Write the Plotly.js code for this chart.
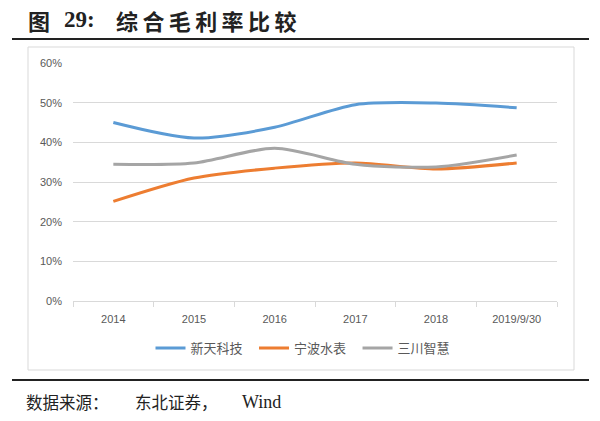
<!DOCTYPE html>
<html><head><meta charset="utf-8">
<script src="https://cdn.plot.ly/plotly-3.0.1.min.js"></script>
<style>html,body{margin:0;padding:0;background:#fff;}#chart{width:600px;height:421px;}</style>
</head><body><div id="chart"></div>
<script>
const categories = ["2014", "2015", "2016", "2017", "2018", "2019/9/30"];
const seriesNames = ["新天科技", "宁波水表", "三川智慧"];
const xintian = [0.450, 0.411, 0.438, 0.495, 0.499, 0.487];
const ningbo  = [0.251, 0.310, 0.335, 0.348, 0.333, 0.348];
const sanchuan = [0.345, 0.348, 0.385, 0.345, 0.338, 0.368];
const yTickVals = [0, 0.1, 0.2, 0.3, 0.4, 0.5, 0.6];
const yTickText = ["0%", "10%", "20%", "30%", "40%", "50%", "60%"];
const colors = ["#5B9BD5", "#ED7D31", "#A5A5A5"];
const values = [xintian, ningbo, sanchuan];

const traces = values.map((v, i) => ({
  type: "scatter", mode: "lines", x: categories, y: v,
  name: seriesNames[i] + (i < values.length - 1 ? "\u2002" : ""),
  line: {color: colors[i], width: 3, shape: "spline", smoothing: 0.8}
}));

const PX = x => (x - 73) / 484;
const PY = y => (301 - y) / 238;
const CJK = "Noto Sans CJK SC, sans-serif";
const ts = "\u2009";

const layout = {
  width: 600, height: 421,
  margin: {l: 73, r: 43, t: 63, b: 120},
  paper_bgcolor: "#fff", plot_bgcolor: "#fff",
  showlegend: true,
  font: {family: "Liberation Sans, Arial, sans-serif", size: 11, color: "#595959"},
  xaxis: {
    type: "category", range: [-0.5, 5.5], showgrid: false, zeroline: false,
    showline: true, linecolor: "#D9D9D9", linewidth: 1,
    ticks: "outside", tickson: "boundaries", ticklen: 5, tickcolor: "#D9D9D9",
    ticklabelstandoff: 8,
    tickfont: {size: 11, color: "#595959"}, fixedrange: true
  },
  yaxis: {
    range: [0, 0.6], tickvals: yTickVals, ticktext: yTickText,
    showgrid: true, gridcolor: "#D9D9D9", gridwidth: 1, zeroline: false,
    showline: false, ticklabelstandoff: 10,
    tickfont: {size: 11, color: "#595959"}, fixedrange: true
  },
  legend: {
    orientation: "h", x: PX(303), xanchor: "center", y: PY(348), yanchor: "middle",
    font: {family: CJK, size: 13, color: "#595959"},
    itemwidth: 30, tracegroupgap: 0
  },
  shapes: [
    {type: "line", xref: "paper", yref: "paper",
     x0: PX(12), x1: PX(589), y0: PY(39), y1: PY(39), line: {color: "#222", width: 2}},
    {type: "line", xref: "paper", yref: "paper",
     x0: PX(12), x1: PX(589), y0: PY(380), y1: PY(380), line: {color: "#222", width: 2}},
    {type: "rect", xref: "paper", yref: "paper",
     x0: PX(28), x1: PX(574), y0: PY(47), y1: PY(370), line: {color: "#D9D9D9", width: 1}}
  ],
  annotations: [
    {xref: "paper", yref: "paper", x: PX(26), y: PY(20), xanchor: "left", yanchor: "middle",
     showarrow: false, text: "<b>图</b>", font: {family: CJK, size: 22, color: "#222"}},
    {xref: "paper", yref: "paper", x: PX(62), y: PY(20), xanchor: "left", yanchor: "middle",
     showarrow: false, text: "<b>29:</b>", font: {family: "Liberation Serif, serif", size: 23, color: "#222"}},
    {xref: "paper", yref: "paper", x: PX(114), y: PY(20), xanchor: "left", yanchor: "middle",
     showarrow: false, text: "<b>" + "综合毛利率比较".split("").join(ts) + "</b>",
     font: {family: CJK, size: 22, color: "#222"}},
    {xref: "paper", yref: "paper", x: PX(24), y: PY(402), xanchor: "left", yanchor: "middle",
     showarrow: false, text: "数据来源：", font: {family: CJK, size: 16.5, color: "#222"}},
    {xref: "paper", yref: "paper", x: PX(133), y: PY(402), xanchor: "left", yanchor: "middle",
     showarrow: false, text: "东北证券，", font: {family: CJK, size: 16.5, color: "#222"}},
    {xref: "paper", yref: "paper", x: PX(240), y: PY(402), xanchor: "left", yanchor: "middle",
     showarrow: false, text: "Wind", font: {family: "Liberation Serif, serif", size: 18, color: "#222"}}
  ]
};
Plotly.newPlot("chart", traces, layout, {displayModeBar: false, staticPlot: true});
</script></body></html>
